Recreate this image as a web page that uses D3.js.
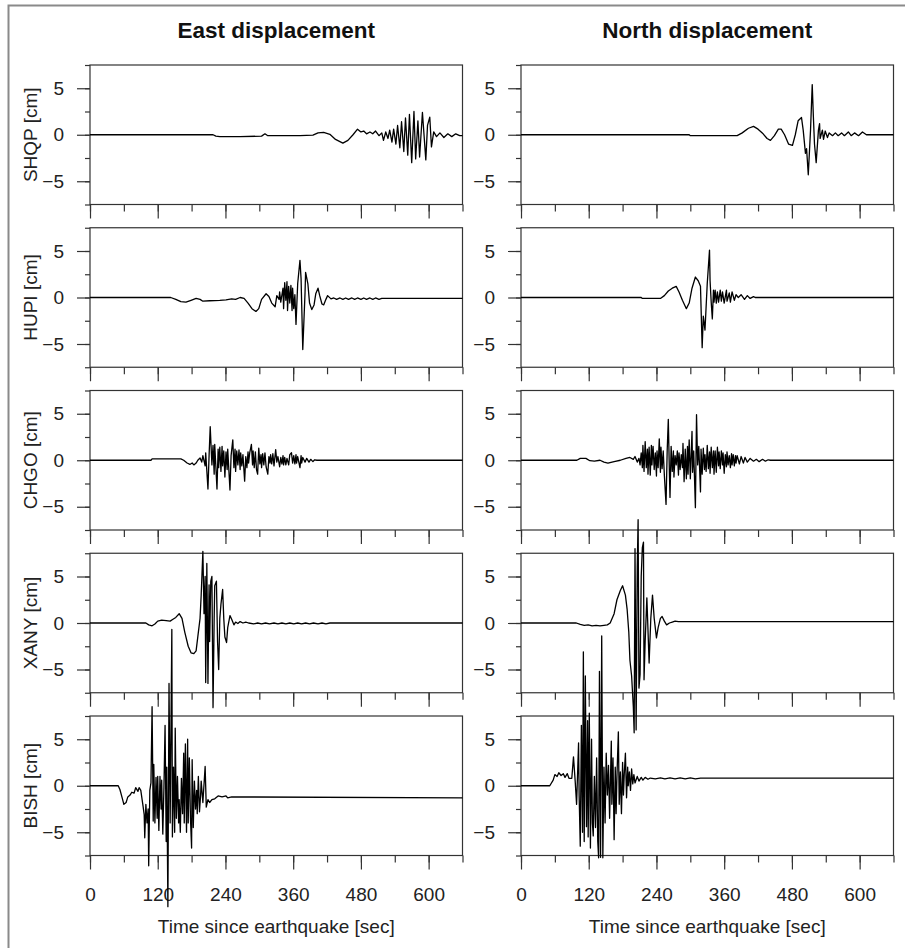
<!DOCTYPE html>
<html>
<head>
<meta charset="utf-8">
<script src="https://cdn.jsdelivr.net/npm/d3@7"></script>
<style>
  body { margin: 0; background: #fff; }
  svg { display: block; font-family: "Liberation Sans", Arial, sans-serif; }
</style>
</head>
<body>
<svg id="chart" width="905" height="948"></svg>
<script>
// column titles, station names, axis ticks
var columns = ["East displacement", "North displacement"];
var stations = ["SHQP", "HUPI", "CHGO", "XANY", "BISH"];
var timeTicks = [0, 60, 120, 180, 240, 300, 360, 420, 480, 540, 600, 660];
var timeLabels = [0, 120, 240, 360, 480, 600];
var dispTicks = [-7.5, -5, -2.5, 0, 2.5, 5, 7.5];
var dispLabels = [-5, 0, 5];

// traces, [seconds, cm]
var SHQP_E = [[0,0],[218,0],[223,-0.15],[230,-0.2],[266,-0.2],[304,-0.15],[310,0.1],[315,-0.1],[372,-0.1],[395,-0.05],[404,0.2],[414,0.25],[425,0.05],[435,-0.5],[448,-0.9],[457,-0.6],[466,0],[474,0.6],[480,0.3],[485,0.4],[490,0.1],[496,0.3],[501,0.1],[506,0.4],[512,-0.1],[517,0.2],[520,-0.6],[524,0.3],[528,-0.4],[531,0.5],[535,-0.8],[538,0.6],[542,-1.0],[545,1.0],[549,-1.4],[552,1.4],[556,-1.8],[559,1.8],[563,-2.2],[566,2.2],[570,-3.0],[574,2.5],[577,-2.6],[581,1.5],[584,-2.4],[589,2.4],[595,-2.7],[598,1.0],[602,1.9],[605,-1.3],[609,0.3],[614,-0.2],[620,0.2],[627,-0.3],[634,0.1],[641,-0.2],[648,0.1],[655,-0.1],[660,-0.1]];
var HUPI_E = [[0,0],[143,0],[152,-0.2],[161,-0.45],[170,-0.5],[179,-0.3],[188,-0.1],[195,-0.2],[200,-0.4],[212,-0.35],[230,-0.3],[241,-0.25],[251,-0.15],[258,-0.2],[266,0],[273,-0.1],[280,-0.6],[287,-1.2],[294,-1.5],[299,-1.2],[304,-0.2],[312,0.4],[317,0.1],[322,-0.6],[328,-1.0],[331,0.2],[335,-0.2],[336,0.6],[338,-0.5],[342,1.0],[343,-1.2],[345,1.6],[347,-0.3],[349,1.7],[350,-1.4],[352,1.2],[354,-0.6],[356,1.3],[358,-1.4],[359,1.0],[361,-1.2],[363,0.3],[365,-2.9],[368,1.5],[372,4.0],[374,2.0],[377,-5.6],[381,0.5],[382,2.7],[386,1.5],[389,-0.6],[393,-1.3],[397,-0.8],[400,0.4],[404,1.0],[407,0.2],[411,-0.7],[414,-0.8],[418,-0.2],[421,0.2],[427,-0.15],[432,-0.05],[437,-0.2],[443,-0.05],[448,-0.2],[453,-0.05],[458,-0.2],[464,-0.05],[469,-0.2],[474,-0.05],[480,-0.2],[485,-0.05],[490,-0.2],[496,-0.05],[501,-0.2],[506,-0.05],[512,-0.2],[517,-0.1],[660,-0.1]];
var CHGO_E = [[0,0],[108,0],[110,0.15],[161,0.15],[166,0],[172,-0.3],[177,-0.45],[181,-0.3],[184,-0.5],[188,-0.3],[191,0],[195,0.25],[198,-0.2],[200,0.5],[204,-0.6],[205,0.8],[209,-3.1],[211,0.5],[213,3.6],[216,-0.5],[218,1.6],[220,-1.5],[221,1.7],[225,-3.1],[227,1.2],[228,-0.8],[230,1.4],[232,-1.2],[234,1.5],[235,-0.6],[237,1.0],[239,-1.8],[241,0.9],[243,-1.0],[244,1.2],[248,-3.2],[250,0.5],[253,2.2],[255,-0.8],[257,1.2],[258,-1.2],[260,1.0],[262,-0.5],[264,1.1],[266,-1.0],[267,0.8],[269,-0.6],[271,0.6],[274,-2.25],[276,0.4],[278,-0.8],[280,0.9],[281,-0.3],[283,0.8],[286,1.7],[288,-0.5],[289,1.0],[291,-0.8],[293,0.9],[295,-1.0],[297,-1.5],[299,1.3],[301,-0.4],[303,0.6],[304,-0.8],[306,0.7],[308,-0.5],[310,0.8],[312,-0.7],[315,-1.5],[317,0.4],[319,-0.3],[320,0.6],[322,-0.4],[324,0.7],[326,-0.6],[329,1.15],[331,-0.2],[333,0.4],[336,-0.7],[338,0.3],[340,-0.4],[342,0.5],[343,-0.5],[345,0.3],[347,-0.5],[349,0.2],[352,-0.5],[354,0.6],[357,0.8],[359,-0.3],[361,0.5],[363,-0.4],[365,0.6],[366,-0.3],[368,0.4],[372,-0.8],[374,0.5],[375,-0.3],[377,0.3],[381,-0.2],[384,0.2],[388,-0.2],[391,0.1],[395,-0.15],[398,0.05],[402,0],[660,0]];
var XANY_E = [[0,0],[99,0],[104,-0.2],[110,-0.3],[115,-0.1],[120,0.2],[127,0.3],[135,0.25],[142,0.2],[147,0.4],[152,0.6],[158,1.0],[163,0.5],[168,-1.0],[174,-2.5],[179,-3.2],[184,-3.3],[188,-3.0],[191,-1.5],[195,0.5],[197,3.0],[200,7.7],[202,1.0],[204,5.0],[205,-6.4],[207,6.4],[209,-6.5],[211,4.1],[212,-2.0],[214,4.5],[216,5.0],[218,-9.1],[220,0.5],[221,4.0],[224,4.5],[226,-2.0],[228,-5.0],[230,0.5],[232,2.0],[235,3.6],[237,0.5],[239,-1.5],[242,-2.1],[244,-0.5],[248,0.8],[251,0.4],[255,-0.2],[258,0.1],[262,-0.05],[266,0.15],[271,0],[276,0.1],[281,0],[290,-0.1],[297,0],[304,-0.1],[311,0],[318,-0.1],[326,0],[333,-0.1],[340,0],[347,-0.1],[354,0],[361,-0.1],[368,0],[375,-0.1],[382,0],[389,-0.1],[396,0],[404,-0.1],[411,0],[418,-0.1],[425,0],[660,0]];
var BISH_E = [[0,0],[50,0],[53,-0.4],[57,-1.3],[60,-2.0],[64,-1.8],[67,-1.2],[71,-1.0],[74,-0.7],[78,-0.8],[81,-0.2],[85,-0.6],[87,-0.2],[90,-0.5],[94,-2.2],[96,-3.1],[97,-5.6],[99,-2.0],[101,-4.0],[103,-2.5],[104,-8.6],[106,-0.5],[108,0.3],[110,8.5],[112,-3.8],[113,2.3],[115,-4.0],[117,0.9],[119,-3.5],[120,1.0],[122,-4.8],[124,1.0],[126,-2.5],[127,0.6],[129,-5.2],[131,-0.2],[133,6.5],[135,-6.0],[136,2.0],[138,-13],[140,11],[142,-4],[145,16.8],[146,-5.5],[148,2.0],[150,-5.0],[151,6.2],[153,-3.5],[155,1.0],[157,-4.0],[158,-1.5],[160,-5.0],[162,0.8],[164,-3.0],[166,3.5],[167,-4.0],[169,4.5],[171,-5.0],[173,5.0],[174,-4.0],[176,3.0],[178,-3.5],[180,-6.7],[181,2.8],[183,-4.5],[185,0.5],[187,-2.5],[189,-0.5],[190,-3.0],[192,1.0],[194,-2.8],[196,-1.0],[197,0.5],[200,-1.8],[204,2.07],[206,-2.3],[209,-1.5],[212,-1.8],[216,-1.5],[221,-1.4],[227,-1.1],[234,-1.2],[241,-1.1],[244,-1.3],[251,-1.2],[660,-1.3]];

var SHQP_N = [[0,0],[298,0],[300,-0.1],[383,-0.1],[392,0.2],[403,0.7],[412,0.9],[420,0.6],[429,0.1],[436,-0.4],[442,-0.6],[449,-0.1],[456,0.6],[461,0.6],[467,0],[474,-1.0],[481,-1.15],[486,0],[491,1.5],[497,1.85],[500,0.5],[504,-2.0],[506,-1.5],[509,-4.3],[513,0.5],[516,5.4],[518,2.0],[520,-1.0],[523,-3.0],[527,0.5],[529,1.2],[530,-0.4],[534,0.5],[536,-0.5],[539,0.4],[543,-0.3],[546,0.2],[552,-0.1],[557,0.2],[562,-0.1],[568,0.2],[573,-0.1],[580,0.3],[585,-0.1],[591,0.2],[598,-0.1],[605,0.3],[612,0],[660,0]];
var HUPI_N = [[0,0],[213,0],[215,-0.1],[247,-0.1],[254,0.2],[261,0.7],[268,1.0],[275,1.2],[280,0.6],[286,-0.3],[293,-1.2],[298,-0.6],[303,1.0],[309,2.2],[314,1.8],[318,1.2],[321,-5.4],[323,-2.0],[326,-3.5],[330,1.5],[334,5.1],[335,1.8],[337,-0.5],[339,-2.3],[341,0.8],[342,-0.5],[344,0.8],[346,-0.6],[348,0.6],[350,-0.5],[353,0.8],[355,-0.4],[357,0.6],[360,-0.6],[364,0.8],[365,-0.4],[369,0.5],[371,-0.5],[374,0.6],[378,-0.3],[381,0.3],[385,0],[390,0.3],[396,-0.2],[401,0.2],[406,-0.1],[412,0.1],[415,0],[660,0]];
var CHGO_N = [[0,0],[99,0],[105,0.2],[115,0.2],[122,-0.05],[130,-0.1],[140,0],[147,-0.2],[154,-0.3],[165,-0.15],[176,0],[186,0.2],[193,0.3],[199,0.1],[202,0.4],[206,-0.2],[209,0.2],[211,-0.5],[213,0.8],[215,-0.8],[216,1.6],[218,-1.2],[220,2.0],[222,-0.8],[224,1.2],[225,-1.5],[227,1.4],[229,-1.6],[231,1.6],[232,-0.5],[234,1.5],[236,-1.0],[238,0.8],[240,-1.7],[241,1.0],[243,-0.8],[245,2.3],[247,-1.3],[248,1.4],[250,-0.9],[252,1.0],[254,-1.6],[257,-4.75],[259,1.0],[261,4.4],[263,-1.5],[264,-4.0],[266,1.5],[268,-1.2],[270,1.0],[271,-1.8],[273,0.5],[275,-0.5],[277,1.0],[279,-1.6],[280,0.8],[282,-1.0],[284,0.6],[286,-0.8],[287,1.8],[289,-2.3],[291,1.2],[293,-2.0],[295,1.5],[296,-1.5],[298,2.2],[300,-2.0],[303,3.1],[304,-1.3],[306,1.0],[309,-5.1],[311,4.9],[313,-0.5],[315,1.5],[318,-3.4],[319,1.2],[321,-1.5],[323,1.3],[325,-1.0],[326,0.6],[328,-1.2],[330,1.6],[332,-0.9],[334,0.9],[335,-1.4],[337,1.4],[339,-0.8],[341,1.0],[342,-1.5],[344,1.0],[346,-1.3],[348,1.4],[350,-0.6],[351,0.9],[353,-0.9],[355,1.0],[357,-0.5],[358,0.8],[360,-1.4],[362,0.6],[364,-0.7],[365,0.9],[367,-0.5],[369,0.5],[371,-0.8],[373,0.7],[374,-0.5],[376,0.6],[378,-0.6],[380,0.5],[381,-0.3],[383,0.5],[387,-0.4],[390,0.4],[394,-0.3],[397,0.3],[401,-0.2],[406,0.2],[412,-0.1],[417,0.1],[422,-0.15],[428,0.1],[433,-0.1],[438,0.05],[442,0],[660,0]];
var XANY_N = [[0,0],[98,0],[105,-0.15],[112,-0.25],[119,-0.2],[126,-0.3],[133,-0.25],[140,-0.3],[147,-0.25],[153,-0.2],[158,0],[165,1.0],[170,2.5],[176,3.5],[180,4.0],[185,3.0],[188,1.5],[191,-1.0],[193,-4.0],[196,-5.7],[199,-9.0],[200.5,-11.8],[202,8.0],[204,-11.5],[206,6.0],[207.5,11.1],[209,-7.0],[211,-5.5],[213,5.0],[215,8.1],[217,8.7],[218,-6.1],[220,-2.0],[223,2.7],[224,1.0],[227,-4.3],[230,0.5],[233,3.0],[236,0.5],[240,-1.6],[243,-0.5],[247,0.5],[250,0.7],[254,0.2],[258,-0.2],[263,0],[268,0.1],[273,0.2],[279,0.15],[660,0.15]];
var BISH_N = [[0,0],[51,0],[57,0.6],[60,1.2],[64,1.0],[67,1.4],[71,1.1],[75,1.3],[78,0.9],[82,1.3],[85,0.8],[90,0.8],[93,3.1],[96,0.5],[98.5,-2.0],[102,4.6],[103,-1.0],[105,-6.5],[107,6.5],[109,-5.0],[110.5,14.4],[112,-6.0],[114,11.8],[116,-4.4],[118,7.0],[119,-5.5],[121,7.8],[123,-6.7],[125,5.0],[126.5,-4.0],[128,-5.4],[130,1.0],[132,-4.5],[134,3.0],[136,-6.0],[137.5,-7.75],[139,12.3],[141,-7.7],[143,16.1],[145,-7.75],[147,2.0],[149,-4.0],[151,3.5],[153,-1.0],[155,2.2],[157,-3.5],[160,4.8],[161,-2.0],[163,3.0],[165,-5.8],[167,2.0],[168.5,-3.0],[170,1.0],[172.5,5.8],[174,-2.0],[176,1.5],[178,-3.0],[180,2.5],[181.5,-1.0],[183,1.3],[185,3.5],[187,-1.3],[189,2.0],[190,0.0],[192,1.5],[194,-0.5],[196,1.8],[198,0.2],[200,1.2],[202,0.3],[206,1.0],[209,0.5],[213,0.9],[216,0.6],[220,0.9],[225,0.7],[229,0.83],[238,0.75],[247,0.85],[255,0.75],[264,0.85],[273,0.75],[282,0.85],[291,0.75],[300,0.85],[309,0.75],[318,0.83],[660,0.83]];

var eastTraces = [SHQP_E, HUPI_E, CHGO_E, XANY_E, BISH_E];
var northTraces = [SHQP_N, HUPI_N, CHGO_N, XANY_N, BISH_N];

// layout
var colLeft = [90, 521], colWidth = 372.5;
var panelTop = 65, panelHeight = 139.5, panelStep = 162.75;
var fontSize = 19, axisColor = "#333";

var svg = d3.select("#chart");

// grey outer frame (runs off the right and bottom edges)
svg.append("rect")
	.attr("x", 8.5).attr("y", 5.5)
	.attr("width", 1200).attr("height", 1200)
	.attr("fill", "none").attr("stroke", "#8a8a8a").attr("stroke-width", 2);

var line = d3.line().x(function(d){ return d[0]; }).y(function(d){ return d[1]; });
var traceLayer = [];

columns.forEach(function(title, c){
	var xScale = d3.scaleLinear().domain([0, 660]).range([colLeft[c], colLeft[c] + colWidth]);
	var traces = c == 0 ? eastTraces : northTraces;

	svg.append("text")
		.attr("x", colLeft[c] + colWidth / 2).attr("y", 38)
		.attr("text-anchor", "middle")
		.attr("font-size", 22.5).attr("font-weight", "bold").attr("fill", "#111")
		.text(title);

	stations.forEach(function(name, r){
		var top = panelTop + r * panelStep;
		var yScale = d3.scaleLinear().domain([-7.5, 7.5]).range([top + panelHeight, top]);

		// frame
		svg.append("rect")
			.attr("x", colLeft[c]).attr("y", top)
			.attr("width", colWidth).attr("height", panelHeight)
			.attr("fill", "none").attr("stroke", axisColor).attr("stroke-width", 1.2);

		// y axis: minor then labelled ticks
		var yMinor = svg.append("g").attr("transform", "translate(" + colLeft[c] + ",0)")
			.call(d3.axisLeft(yScale).tickValues(dispTicks).tickSize(5).tickFormat(""));
		var yMajor = svg.append("g").attr("transform", "translate(" + colLeft[c] + ",0)")
			.call(d3.axisLeft(yScale).tickValues(dispLabels).tickSize(13).tickPadding(13).tickFormat(d3.format("d")));

		// x axis
		var xMinor = svg.append("g").attr("transform", "translate(0," + (top + panelHeight) + ")")
			.call(d3.axisBottom(xScale).tickValues(timeTicks).tickSize(7).tickFormat(""));
		var xMajor = svg.append("g").attr("transform", "translate(0," + (top + panelHeight) + ")")
			.call(d3.axisBottom(xScale).tickValues(timeLabels).tickSize(14).tickPadding(18)
				.tickFormat(r == stations.length - 1 ? d3.format("d") : function(){ return ""; }));

		[yMinor, yMajor, xMinor, xMajor].forEach(function(g){
			g.select(".domain").remove();
			g.selectAll(".tick line").attr("stroke", axisColor).attr("stroke-width", 1.2);
			g.selectAll(".tick text").attr("fill", "#222").attr("font-size", fontSize)
				.attr("font-family", "'Liberation Sans', Arial, sans-serif");
		});

		if (c == 0){
			svg.append("text")
				.attr("transform", "translate(37," + (top + panelHeight / 2) + ") rotate(-90)")
				.attr("text-anchor", "middle")
				.attr("font-size", fontSize).attr("fill", "#222")
				.text(name + " [cm]");
		}

		// keep the trace for later so it is drawn above every frame
		traceLayer.push(traces[r].map(function(d){ return [xScale(d[0]), yScale(d[1])]; }));
	});

	svg.append("text")
		.attr("x", colLeft[c] + colWidth / 2).attr("y", 933)
		.attr("text-anchor", "middle")
		.attr("font-size", fontSize).attr("fill", "#222")
		.text("Time since earthquake [sec]");
});

traceLayer.forEach(function(pts){
	svg.append("path")
		.attr("d", line(pts))
		.attr("fill", "none")
		.attr("stroke", "#000")
		.attr("stroke-width", 1.3)
		.attr("stroke-linejoin", "round");
});
</script>
</body>
</html>
